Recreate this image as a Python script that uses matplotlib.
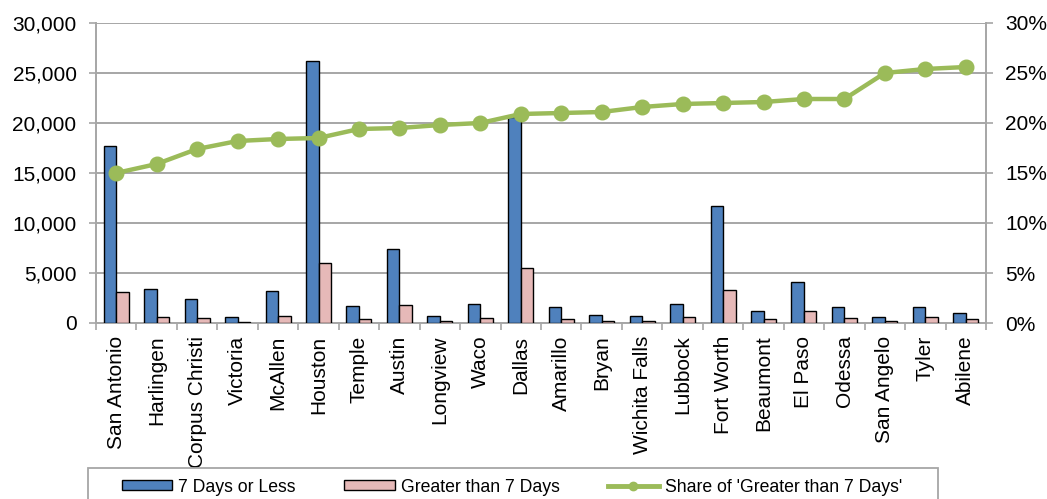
import matplotlib
matplotlib.use("Agg")
import matplotlib.pyplot as plt
import numpy as np
from matplotlib.ticker import FuncFormatter, FixedLocator
from matplotlib.patches import Rectangle

plt.rcParams['font.family'] = ['Liberation Sans', 'DejaVu Sans']

cities = ["San Antonio", "Harlingen", "Corpus Christi", "Victoria", "McAllen",
          "Houston", "Temple", "Austin", "Longview", "Waco", "Dallas", "Amarillo",
          "Bryan", "Wichita Falls", "Lubbock", "Fort Worth", "Beaumont", "El Paso",
          "Odessa", "San Angelo", "Tyler", "Abilene"]

le7 = [17700, 3400, 2400, 600, 3170, 26230, 1730, 7400, 730, 1870, 20600,
       1600, 830, 730, 1930, 11670, 1230, 4070, 1630, 600, 1570, 1000]
gt7 = [3100, 630, 500, 130, 730, 5970, 400, 1830, 200, 470, 5530,
       400, 200, 200, 570, 3300, 370, 1200, 530, 200, 570, 370]
share = [15.0, 15.9, 17.4, 18.2, 18.4, 18.5, 19.4, 19.5, 19.8, 20.0, 20.9,
         21.0, 21.1, 21.6, 21.9, 22.0, 22.1, 22.4, 22.4, 25.0, 25.4, 25.6]

BLUE = "#4F81BD"
PINK = "#E6B9B8"
GREEN = "#9BBB59"
GRID = "#A6A6A6"

fig = plt.figure(figsize=(10.47, 4.99), dpi=100)
ax = fig.add_axes([96 / 1047, 1 - 323 / 499, 890 / 1047, 300 / 499])
ax2 = ax.twinx()

x = np.arange(len(cities))
w = 0.31
b1 = ax.bar(x - w / 2, le7, w, color=BLUE, edgecolor="black", linewidth=1.0,
            label="7 Days or Less", zorder=3)
b2 = ax.bar(x + w / 2, gt7, w, color=PINK, edgecolor="black", linewidth=1.0,
            label="Greater than 7 Days", zorder=3)

ax.set_xlim(-0.5, len(cities) - 0.5)
ax.set_ylim(0, 30000)
ax.set_yticks(np.arange(0, 30001, 5000))
ax.yaxis.set_major_formatter(FuncFormatter(lambda v, p: f"{int(v):,}"))
ax.yaxis.grid(True, color=GRID, linewidth=1.4, zorder=0)
ax.set_axisbelow(True)

ax.set_xticks(x)
ax.set_xticklabels(cities, rotation=90, fontsize=15)
ax.tick_params(axis="x", which="major", length=0, pad=9)
ax.xaxis.set_minor_locator(FixedLocator(np.arange(-0.5, len(cities), 1.0)))
ax.tick_params(axis="x", which="minor", length=5, color=GRID, width=1.2)
ax.tick_params(axis="y", labelsize=15, length=5, color=GRID, width=1.2, pad=9)

for s in ["top", "right"]:
    ax.spines[s].set_visible(False)
ax.spines["left"].set_color(GRID)
ax.spines["left"].set_linewidth(1.4)
ax.spines["bottom"].set_color(GRID)
ax.spines["bottom"].set_linewidth(1.4)

(ln,) = ax2.plot(x, share, color=GREEN, linewidth=3.2, marker="o", markersize=10.5,
                 label="Share of 'Greater than 7 Days'", zorder=4)
ax2.set_ylim(0, 30)
ax2.set_yticks(np.arange(0, 31, 5))
ax2.yaxis.set_major_formatter(FuncFormatter(lambda v, p: f"{int(v)}%"))
ax2.tick_params(axis="y", labelsize=15, length=5, color=GRID, width=1.2, pad=9)
for s in ["top", "left", "bottom"]:
    ax2.spines[s].set_visible(False)
ax2.spines["right"].set_color(GRID)
ax2.spines["right"].set_linewidth(1.4)

# Legend box along the bottom edge, running past the figure border
fig.patches.append(Rectangle((88 / 1047, -0.05), 850 / 1047, (1 - 468 / 499) + 0.05,
                             transform=fig.transFigure, fill=False,
                             edgecolor=GRID, linewidth=1.3))
leg = fig.legend(handles=[b1, b2, ln], loc="center", ncol=3,
                 bbox_to_anchor=(512 / 1047, 1 - 487 / 499),
                 fontsize=12.7, frameon=False, handlelength=2.85,
                 handleheight=0.45, borderpad=0, borderaxespad=0,
                 handletextpad=0.35, columnspacing=2.75)
leg.legend_handles[2].set_markersize(6)
leg.legend_handles[2].set_linewidth(3.5)

fig.savefig("out.png", dpi=100)
